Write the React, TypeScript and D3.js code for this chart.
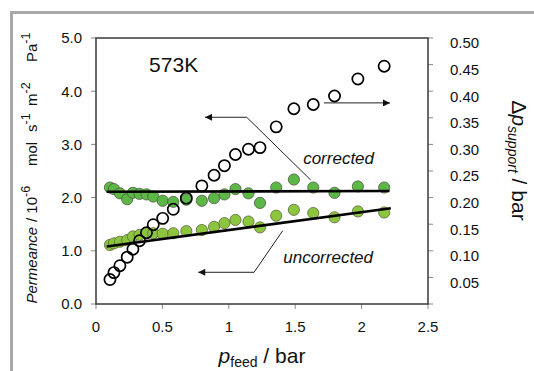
import React from "react";
import * as d3 from "d3";

// ---------- data ----------
const pFeed = [0.105, 0.135, 0.18, 0.235, 0.278, 0.328, 0.38, 0.431, 0.502, 0.582, 0.68, 0.797, 0.889, 0.967, 1.05, 1.148, 1.235, 1.357, 1.49, 1.636, 1.796, 1.972, 2.17];
const deltaPSupport = [0.046, 0.059, 0.072, 0.088, 0.103, 0.119, 0.134, 0.149, 0.161, 0.178, 0.199, 0.222, 0.242, 0.26, 0.281, 0.291, 0.294, 0.333, 0.367, 0.375, 0.391, 0.423, 0.447];
const permeanceCorrected = [2.19, 2.16, 2.08, 1.97, 2.09, 2.07, 2.06, 2.02, 1.94, 1.92, 1.96, 1.94, 1.99, 2.06, 2.16, 2.08, 1.9, 2.19, 2.34, 2.19, 2.09, 2.21, 2.19];
const permeanceUncorrected = [1.11, 1.14, 1.17, 1.2, 1.27, 1.3, 1.33, 1.33, 1.32, 1.33, 1.37, 1.39, 1.45, 1.52, 1.58, 1.55, 1.44, 1.66, 1.77, 1.71, 1.63, 1.74, 1.72];

const fitX = [0.08, 2.21];
const fitCorrected = [2.11, 2.125];
const fitUncorrectedX = [0.08, 2.22];
const fitUncorrected = [1.08, 1.8];

const xTicks = [0, 0.5, 1, 1.5, 2, 2.5];
const xTickLabels = ["0", "0.5", "1", "1.5", "2", "2.5"];
const yTicks = [0, 1, 2, 3, 4, 5];
const yTickLabels = ["0.0", "1.0", "2.0", "3.0", "4.0", "5.0"];
const y2Ticks = [0, 0.05, 0.1, 0.15, 0.2, 0.25, 0.3, 0.35, 0.4, 0.45, 0.5];
const y2TickLabels = ["", "0.05", "0.10", "0.15", "0.20", "0.25", "0.30", "0.35", "0.40", "0.45", "0.50"];

// annotation arrows in data units (x: p_feed, y: left axis)
const arrowCorrected: [number, number][] = [[1.617, 2.33], [1.135, 3.51], [0.821, 3.51]];
const arrowDeltaP: [number, number][] = [[1.717, 3.78], [2.214, 3.78]];
const arrowUncorrected: [number, number][] = [[1.406, 1.378], [1.19, 0.596], [0.77, 0.596]];

// left axis title pieces: [text, superscript, italic]
const yTitleParts: [string, string, boolean][] = [
  ["Permeance", "", true],
  ["/ 10", "-6", false],
  ["mol", "", false],
  ["s", "-1", false],
  ["m", "-2", false],
  ["Pa", "-1", false],
];
const yTitleStarts = [303.5, 222, 166, 132, 106, 62];

const FONT = "'Liberation Sans', Arial, Helvetica, sans-serif";

export default function App() {
  const W = 534, H = 371;
  const m = { l: 96, r: 428, t: 38, b: 304 };
  const x = d3.scaleLinear().domain([0, 2.5]).range([m.l, m.r]);
  const y = d3.scaleLinear().domain([0, 5]).range([m.b, m.t]);
  const y2 = d3.scaleLinear().domain([0, 0.5]).range([m.b, m.t]);
  const line = d3.line<[number, number]>().x((d) => x(d[0])).y((d) => y(d[1]));

  const green1 = "#5DB747";
  const green2 = "#8CC63F";

  return (
    <svg width={W} height={H} style={{ position: "fixed", left: 0, top: 0, background: "#fff" }} fontFamily={FONT}>
      <defs>
        <marker id="ah" viewBox="0 0 10 10" refX="10" refY="5" markerWidth="10" markerHeight="7" markerUnits="userSpaceOnUse" orient="auto">
          <path d="M0,0 L10,5 L0,10 z" fill="#111" />
        </marker>
      </defs>
      <rect x={0} y={0} width={W} height={H} fill="#fff" />
      {/* outer grey frame */}
      <line x1={11.5} y1={11} x2={11.5} y2={H} stroke="#a8a8a8" strokeWidth={3} />
      <line x1={10} y1={12.5} x2={W} y2={12.5} stroke="#a8a8a8" strokeWidth={3} />

      {/* ticks */}
      {xTicks.map((t, i) => (
        <g key={"x" + i}>
          <line x1={x(t)} x2={x(t)} y1={m.b} y2={m.b + 5} stroke="#888" strokeWidth={1} />
          <text x={x(t)} y={331.5} textAnchor="middle" fontSize={15} fill="#111">{xTickLabels[i]}</text>
        </g>
      ))}
      {yTicks.map((t, i) => (
        <g key={"y" + i}>
          <line x1={m.l - 5} x2={m.l} y1={y(t)} y2={y(t)} stroke="#888" strokeWidth={1} />
          <text x={82} y={y(t)} dy="0.36em" textAnchor="end" fontSize={15} fill="#111">{yTickLabels[i]}</text>
        </g>
      ))}
      {y2Ticks.map((t, i) => (
        <g key={"y2" + i}>
          <line x1={m.r} x2={m.r + 5} y1={y2(t)} y2={y2(t)} stroke="#888" strokeWidth={1} />
          <text x={450} y={y2(t) + 5} dy="0.36em" textAnchor="start" fontSize={15} fill="#111">{y2TickLabels[i]}</text>
        </g>
      ))}

      {/* plot box */}
      <rect x={m.l} y={m.t} width={m.r - m.l} height={m.b - m.t} fill="none" stroke="#3a3a3a" strokeWidth={1.5} />

      {/* green series */}
      {pFeed.map((p, i) => (
        <circle key={"c" + i} cx={x(p)} cy={y(permeanceCorrected[i])} r={5.6} fill={green1} stroke="#4b5a40" strokeWidth={0.8} />
      ))}
      {pFeed.map((p, i) => (
        <circle key={"u" + i} cx={x(p)} cy={y(permeanceUncorrected[i])} r={5.6} fill={green2} stroke="#5a6440" strokeWidth={0.8} />
      ))}
      {/* fit lines */}
      <path d={line(fitX.map((v, i) => [v, fitCorrected[i]]) as [number, number][]) || ""} stroke="#000" strokeWidth={2.6} fill="none" />
      <path d={line(fitUncorrectedX.map((v, i) => [v, fitUncorrected[i]]) as [number, number][]) || ""} stroke="#000" strokeWidth={2.6} fill="none" />

      {/* open circles: delta p support (right axis) */}
      {pFeed.map((p, i) => (
        <circle key={"o" + i} cx={x(p)} cy={y2(deltaPSupport[i])} r={5.6} fill="none" stroke="#000" strokeWidth={1.7} />
      ))}

      {/* annotations */}
      <path d={line(arrowCorrected) || ""} fill="none" stroke="#222" strokeWidth={1} markerEnd="url(#ah)" />
      <path d={line(arrowDeltaP) || ""} fill="none" stroke="#222" strokeWidth={1} markerEnd="url(#ah)" />
      <path d={line(arrowUncorrected) || ""} fill="none" stroke="#222" strokeWidth={1} markerEnd="url(#ah)" />

      <text x={x(0.4)} y={y(4.36)} fontSize={21} fill="#111">573K</text>
      <text x={x(1.56)} y={y(2.63)} fontSize={17} fontStyle="italic" fill="#111">corrected</text>
      <text x={x(1.41)} y={y(0.776)} fontSize={17} fontStyle="italic" fill="#111">uncorrected</text>

      {/* x label */}
      <text x={262} y={362.5} textAnchor="middle" fontSize={21} fill="#111">
        <tspan fontStyle="italic">p</tspan>
        <tspan fontSize={14} dy={4}>feed</tspan>
        <tspan dy={-4}> / bar</tspan>
      </text>

      {/* left y label */}
      <g transform="translate(36.5,0) rotate(-90)">
        {yTitleParts.map(([txt, sup, it], i) => (
          <text key={"yt" + i} x={-yTitleStarts[i]} y={0} fontSize={15} fill="#111" fontStyle={it ? "italic" : "normal"}>
            {txt}
            {sup ? <tspan fontSize={12.5} dy={-6.5}>{sup}</tspan> : null}
          </text>
        ))}
      </g>

      {/* right y label */}
      <text transform="translate(512,160.5) rotate(90)" textAnchor="middle" fontSize={21} fill="#111">
        <tspan>Δ</tspan>
        <tspan fontStyle="italic">p</tspan>
        <tspan fontSize={14} fontStyle="italic" dy={4}>support</tspan>
        <tspan dy={-4}> / bar</tspan>
      </text>
    </svg>
  );
}
